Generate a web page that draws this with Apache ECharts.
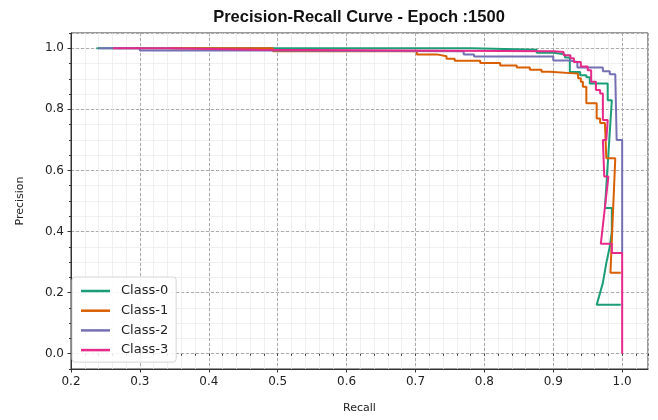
<!DOCTYPE html>
<html>
<head>
<meta charset="utf-8">
<script src="https://cdn.jsdelivr.net/npm/echarts@6/dist/echarts.min.js"></script>
<style>
  html, body { margin: 0; padding: 0; background: #fff; }
  #myDiv { width: 658px; height: 420px; }
</style>
</head>
<body>
<div id="myDiv"></div>
<script>
// values
const classNames = ['Class-0', 'Class-1', 'Class-2', 'Class-3'];
const xTicks = [0.2, 0.3, 0.4, 0.5, 0.6, 0.7, 0.8, 0.9, 1.0];
const yTicks = [0.0, 0.2, 0.4, 0.6, 0.8, 1.0];

const class0Recall    = [0.237, 0.782, 0.782, 0.876, 0.876, 0.900, 0.900, 0.917, 0.917, 0.924, 0.924, 0.939, 0.939, 0.948, 0.948, 0.953, 0.953, 0.979, 0.979, 0.985, 0.975, 0.985, 0.985, 0.982, 0.977, 0.972, 0.963, 0.998];
const class0Precision = [1.0, 1.0, 0.995, 0.995, 0.985, 0.985, 0.980, 0.980, 0.970, 0.970, 0.922, 0.922, 0.912, 0.912, 0.905, 0.905, 0.885, 0.885, 0.830, 0.830, 0.477, 0.477, 0.400, 0.350, 0.297, 0.232, 0.160, 0.160];

const class1Recall    = [0.344, 0.493, 0.493, 0.702, 0.702, 0.731, 0.731, 0.745, 0.745, 0.757, 0.757, 0.794, 0.794, 0.823, 0.823, 0.847, 0.847, 0.866, 0.866, 0.883, 0.883, 0.895, 0.895, 0.936, 0.936, 0.940, 0.940, 0.943, 0.943, 0.948, 0.948, 0.963, 0.963, 0.968, 0.968, 0.975, 0.977, 0.990, 0.983, 0.998];
const class1Precision = [1.0, 1.0, 0.990, 0.990, 0.980, 0.980, 0.974, 0.974, 0.966, 0.966, 0.959, 0.959, 0.952, 0.952, 0.944, 0.944, 0.937, 0.937, 0.930, 0.930, 0.923, 0.923, 0.917, 0.917, 0.902, 0.902, 0.890, 0.890, 0.874, 0.874, 0.820, 0.820, 0.770, 0.770, 0.755, 0.755, 0.640, 0.640, 0.265, 0.265];

const class2Recall    = [0.240, 0.300, 0.300, 0.470, 0.470, 0.770, 0.770, 0.785, 0.785, 0.900, 0.900, 0.924, 0.924, 0.935, 0.935, 0.972, 0.972, 0.982, 0.982, 0.990, 0.992, 1.0, 1.0];
const class2Precision = [1.0, 1.0, 0.993, 0.993, 0.990, 0.990, 0.980, 0.980, 0.973, 0.973, 0.960, 0.960, 0.955, 0.955, 0.937, 0.937, 0.925, 0.925, 0.915, 0.915, 0.700, 0.700, 0.330];

const class3Recall    = [0.261, 0.344, 0.344, 0.470, 0.470, 0.900, 0.900, 0.915, 0.915, 0.925, 0.925, 0.930, 0.930, 0.940, 0.940, 0.950, 0.950, 0.955, 0.955, 0.962, 0.962, 0.968, 0.968, 0.972, 0.972, 0.979, 0.977, 0.972, 0.974, 0.980, 0.969, 0.980, 0.985, 0.985, 1.0, 1.0];
const class3Precision = [1.0, 1.0, 0.995, 0.995, 0.990, 0.990, 0.988, 0.988, 0.977, 0.977, 0.967, 0.967, 0.955, 0.955, 0.940, 0.940, 0.928, 0.928, 0.890, 0.890, 0.863, 0.863, 0.852, 0.852, 0.765, 0.765, 0.700, 0.700, 0.580, 0.580, 0.360, 0.360, 0.360, 0.330, 0.330, 0.0];

const colors = ['#1b9e77', '#d95f02', '#7570b3', '#e7298a'];
const recalls = [class0Recall, class1Recall, class2Recall, class3Recall];
const precisions = [class0Precision, class1Precision, class2Precision, class3Precision];

function zip(xs, ys) {
  return xs.map((x, i) => [x, ys[i]]);
}

const myChart = echarts.init(document.getElementById('myDiv'));

const font = 'DejaVu Sans';
const isMajor = (v, list) => list.some(t => Math.abs(t - v) < 1e-6);

let option = {
  animation: false,
  backgroundColor: '#fff',
  color: colors,
  title: {
    text: 'Precision-Recall Curve - Epoch :1500',
    left: 354,
    textAlign: 'center',
    top: 4,
    textStyle: { fontFamily: 'Liberation Sans', fontWeight: 'bold', fontSize: 16.5, color: '#111' }
  },
  legend: {
    orient: 'vertical',
    left: 72,
    top: 277,
    data: classNames,
    icon: 'rect',
    itemWidth: 29,
    itemHeight: 2.5,
    itemGap: 3.7,
    padding: [6, 8, 4, 9],
    backgroundColor: 'rgba(255,255,255,0.85)',
    borderColor: '#d6d6d6',
    borderWidth: 1,
    borderRadius: 3,
    textStyle: { fontFamily: font, fontSize: 13, color: '#222', lineHeight: 16, padding: [0, 0, 0, 6] }
  },
  grid: {
    left: 71, right: 10, top: 33, bottom: 51,
    outerBoundsMode: 'none',
    show: true, borderColor: '#333', borderWidth: 1, backgroundColor: '#fff'
  },
  xAxis: [
    {
      // minor grid
      type: 'value', min: 0.2, max: 1.0375, interval: 0.02, position: 'bottom',
      axisLine: { show: false },
      axisTick: { show: true, length: 2, lineStyle: { color: '#333' } },
      axisLabel: { show: false },
      splitLine: { show: true, lineStyle: { color: '#ececec', width: 0.8 } }
    },
    {
      type: 'value', min: 0.2, max: 1.0375, interval: 0.1, position: 'bottom',
      name: 'Recall', nameLocation: 'middle', nameGap: 34,
      nameTextStyle: { fontFamily: font, fontSize: 11, color: '#222' },
      axisLine: { show: true, onZero: false, lineStyle: { color: '#333', width: 1 } },
      axisTick: { show: true, length: 3.5, lineStyle: { color: '#333' } },
      axisLabel: {
        fontFamily: font, fontSize: 12, color: '#222', margin: 7,
        showMaxLabel: false,
        formatter: v => isMajor(v, xTicks) ? v.toFixed(1) : ''
      },
      splitLine: { show: true, lineStyle: { color: '#999', type: [3, 2], width: 0.8 } }
    }
  ],
  yAxis: [
    {
      // minor grid
      type: 'value', min: -0.05, max: 1.05, interval: 0.05, position: 'left',
      axisLine: { show: false },
      axisTick: { show: true, length: 2, lineStyle: { color: '#333' } },
      axisLabel: { show: false },
      splitLine: { show: true, lineStyle: { color: '#ececec', width: 0.8 } }
    },
    {
      type: 'value', min: -0.05, max: 1.05, splitNumber: 5, position: 'left',
      name: 'Precision', nameLocation: 'middle', nameGap: 45,
      nameTextStyle: { fontFamily: font, fontSize: 11, color: '#222' },
      axisLine: { show: true, onZero: false, lineStyle: { color: '#333', width: 1 } },
      axisTick: { show: true, length: 3.5, lineStyle: { color: '#333' } },
      axisLabel: {
        fontFamily: font, fontSize: 12, color: '#222', margin: 7,
        showMinLabel: false, showMaxLabel: false,
        formatter: v => isMajor(v, yTicks) ? v.toFixed(1) : ''
      },
      splitLine: { show: true, lineStyle: { color: '#999', type: [3, 2], width: 0.8 } }
    }
  ],
  series: classNames.map((name, i) => ({
    name: name,
    type: 'line',
    xAxisIndex: 1,
    yAxisIndex: 1,
    showSymbol: false,
    symbol: 'none',
    lineStyle: { width: 2, color: colors[i] },
    itemStyle: { color: colors[i] },
    data: zip(recalls[i], precisions[i])
  }))
};

option && myChart.setOption(option);
</script>
</body>
</html>
